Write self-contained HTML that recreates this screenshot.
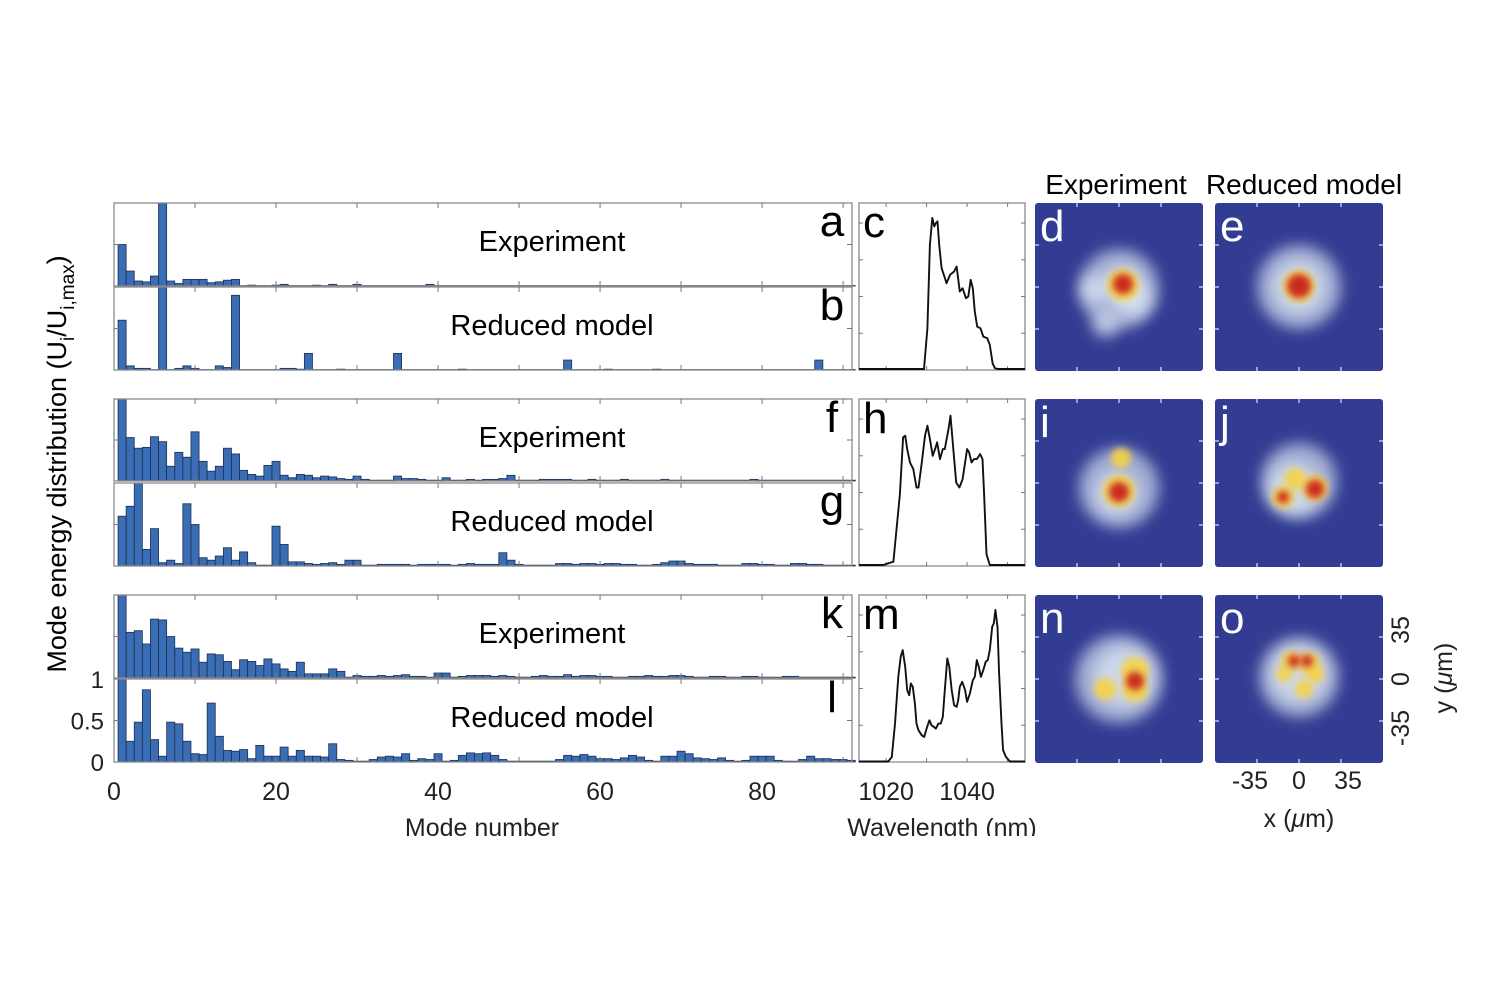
<!DOCTYPE html>
<html><head><meta charset="utf-8"><style>
html,body{margin:0;padding:0;background:#fff;}
svg{display:block;font-family:"Liberation Sans",sans-serif;}
</style></head><body>
<svg id="fig" width="1500" height="1000" viewBox="0 0 1500 1000" xmlns="http://www.w3.org/2000/svg">
<defs>
<filter id="blur6" x="-50%" y="-50%" width="200%" height="200%"><feGaussianBlur stdDeviation="7"/></filter>
<filter id="blur3" x="-50%" y="-50%" width="200%" height="200%"><feGaussianBlur stdDeviation="3.5"/></filter>
<clipPath id="clipBottom"><rect x="0" y="0" width="1500" height="836"/></clipPath>
</defs>
<g id="bars-layer"></g>
<g id="spec-layer"></g>
<g id="heat-layer"></g>
<g id="text-layer">
<text x="66" y="464" font-size="27" text-anchor="middle" transform="rotate(-90 66 464)">Mode energy distribution (U<tspan font-size="19" dy="8">i</tspan><tspan dy="-8">/U</tspan><tspan font-size="19" dy="8">i,max</tspan><tspan dy="-8">)</tspan></text>
<text x="482" y="836" font-size="25" text-anchor="middle" fill="#222">Mode number</text>
<text x="942" y="836" font-size="25" text-anchor="middle" fill="#222" clip-path="url(#clipBottom)">Wavelength (nm)</text>
<text x="1116" y="194" font-size="28" text-anchor="middle">Experiment</text>
<text x="1304" y="194" font-size="28" text-anchor="middle">Reduced model</text>
<text x="1299" y="827" font-size="25" text-anchor="middle" fill="#222">x (<tspan font-style="italic">μ</tspan>m)</text>
<text x="1452" y="678" font-size="25" text-anchor="middle" fill="#222" transform="rotate(-90 1452 678)">y (<tspan font-style="italic">μ</tspan>m)</text>
</g>
</svg>
<script>
// ---------- bar chart data (91 modes) ----------
const modeTicks = [0, 20, 40, 60, 80];
const barA = [0.5,0.18,0.06,0.05,0.12,1.0,0.06,0.03,0.08,0.08,0.08,0.04,0.05,0.07,0.08,0.005,0.01,0.005,0.005,0.01,0.02,0.005,0.005,0.005,0.01,0.005,0.02,0.005,0.005,0.02,0.005,0.005,0.005,0.005,0.005,0.005,0.005,0.005,0.02,0.005,0.005,0.005,0.005,0.005,0.005,0.005,0.005,0.005,0.005,0.005,0.005,0.005,0.005,0.005,0.005,0.005,0.005,0.005,0.005,0.005,0.005,0.005,0.005,0.005,0.005,0.005,0.005,0.005,0.005,0.005,0.005,0.005,0.005,0.005,0.005,0.005,0.005,0.005,0.005,0.005,0.005,0.005,0.005,0.005,0.005,0.005,0.005,0.005,0.005,0.005,0.005];
const barB = [0.6,0.05,0.02,0.02,0.005,1.0,0.005,0.02,0.05,0.02,0.005,0.005,0.05,0.03,0.9,0.005,0.005,0.005,0.005,0.005,0.02,0.02,0.01,0.2,0.005,0.005,0.005,0.01,0.005,0.005,0.005,0.005,0.005,0.005,0.2,0.005,0.005,0.005,0.005,0.005,0.005,0.005,0.01,0.005,0.005,0.005,0.005,0.005,0.005,0.005,0.005,0.005,0.005,0.005,0.005,0.12,0.005,0.005,0.005,0.005,0.01,0.005,0.005,0.005,0.005,0.005,0.01,0.005,0.005,0.005,0.005,0.005,0.005,0.005,0.005,0.005,0.005,0.005,0.005,0.005,0.005,0.005,0.005,0.005,0.005,0.005,0.12,0.005,0.005,0.005,0.005];
const barF = [1.0,0.53,0.4,0.41,0.54,0.48,0.18,0.35,0.29,0.6,0.24,0.12,0.18,0.4,0.33,0.13,0.08,0.06,0.19,0.24,0.07,0.04,0.08,0.07,0.04,0.06,0.05,0.03,0.02,0.06,0.02,0.01,0.01,0.01,0.06,0.03,0.03,0.02,0.01,0.01,0.04,0.01,0.01,0.02,0.01,0.02,0.02,0.03,0.07,0.01,0.01,0.01,0.02,0.02,0.02,0.02,0.01,0.01,0.02,0.01,0.01,0.01,0.02,0.01,0.01,0.01,0.01,0.02,0.01,0.01,0.01,0.01,0.01,0.01,0.01,0.01,0.01,0.01,0.02,0.01,0.01,0.01,0.01,0.01,0.01,0.01,0.01,0.01,0.01,0.01,0.01];
const barG = [0.6,0.72,1.0,0.2,0.45,0.04,0.07,0.03,0.75,0.5,0.1,0.07,0.12,0.22,0.07,0.17,0.04,0.01,0.01,0.48,0.26,0.05,0.05,0.03,0.02,0.03,0.04,0.02,0.07,0.07,0.01,0.01,0.02,0.02,0.02,0.02,0.01,0.02,0.02,0.02,0.02,0.01,0.02,0.03,0.02,0.02,0.02,0.16,0.07,0.02,0.01,0.01,0.01,0.01,0.03,0.03,0.02,0.03,0.03,0.02,0.03,0.03,0.02,0.02,0.01,0.01,0.02,0.04,0.06,0.06,0.03,0.02,0.02,0.02,0.01,0.01,0.01,0.03,0.03,0.02,0.02,0.01,0.01,0.03,0.03,0.02,0.02,0.01,0.01,0.01,0.01];
const barK = [1.0,0.55,0.57,0.41,0.71,0.7,0.5,0.36,0.31,0.35,0.19,0.29,0.28,0.2,0.1,0.22,0.2,0.15,0.23,0.17,0.11,0.08,0.19,0.05,0.05,0.05,0.11,0.08,0.01,0.03,0.02,0.02,0.03,0.02,0.03,0.04,0.02,0.02,0.01,0.06,0.06,0.01,0.02,0.03,0.03,0.03,0.02,0.03,0.02,0.01,0.01,0.02,0.03,0.02,0.02,0.04,0.02,0.03,0.03,0.02,0.02,0.01,0.01,0.02,0.02,0.03,0.02,0.02,0.03,0.03,0.02,0.01,0.01,0.02,0.02,0.01,0.01,0.02,0.02,0.01,0.01,0.01,0.02,0.02,0.01,0.01,0.01,0.01,0.01,0.01,0.01];
const barL = [1.0,0.25,0.48,0.87,0.27,0.07,0.48,0.46,0.25,0.1,0.09,0.71,0.31,0.14,0.13,0.15,0.04,0.2,0.07,0.07,0.18,0.07,0.14,0.07,0.07,0.06,0.22,0.03,0.02,0.01,0.01,0.03,0.06,0.07,0.06,0.1,0.02,0.04,0.03,0.1,0.01,0.02,0.08,0.11,0.1,0.11,0.08,0.03,0.01,0.01,0.01,0.01,0.01,0.01,0.03,0.08,0.07,0.09,0.07,0.04,0.04,0.03,0.05,0.08,0.06,0.02,0.01,0.07,0.07,0.13,0.1,0.05,0.04,0.03,0.05,0.02,0.01,0.02,0.07,0.07,0.07,0.02,0.01,0.01,0.03,0.07,0.04,0.04,0.03,0.03,0.02];
// ---------- spectra data ----------
const specTicks = [1020, 1040];
const specCx = [1013.3,1029.35,1030.2,1030.8,1031.4,1031.9,1032.3,1032.7,1033.1,1033.7,1034.4,1034.9,1035.8,1036.8,1037.4,1038.2,1038.9,1039.7,1040.3,1040.9,1041.4,1041.9,1042.5,1043.3,1044.0,1045.0,1045.6,1046.3,1046.9,1047.7,1054.3];
const specCy = [0.006,0.006,0.25,0.75,0.91,0.86,0.88,0.89,0.75,0.61,0.56,0.52,0.57,0.59,0.62,0.47,0.49,0.43,0.44,0.54,0.49,0.35,0.26,0.25,0.2,0.19,0.15,0.04,0.01,0.006,0.006];
const specHx = [1013.3,1019.3,1021.8,1023.4,1024.2,1024.7,1025.2,1025.9,1026.7,1027.5,1028.0,1028.8,1029.6,1030.2,1030.8,1031.5,1032.1,1032.6,1033.3,1034.0,1034.5,1035.4,1035.9,1036.6,1037.3,1038.1,1038.9,1039.5,1040.0,1040.5,1041.1,1041.7,1042.4,1043.2,1043.8,1044.2,1044.8,1045.6,1054.3];
const specHy = [0.006,0.006,0.026,0.43,0.77,0.78,0.7,0.62,0.58,0.47,0.47,0.62,0.78,0.84,0.76,0.66,0.7,0.74,0.64,0.7,0.7,0.82,0.9,0.7,0.5,0.47,0.52,0.62,0.7,0.68,0.62,0.64,0.64,0.67,0.64,0.43,0.07,0.006,0.006];
const specMx = [1013.3,1020.5,1021.4,1022.2,1023.0,1023.6,1024.1,1024.7,1025.2,1025.7,1026.1,1026.6,1027.1,1027.5,1028.0,1028.8,1029.4,1030.0,1030.7,1031.2,1031.8,1032.3,1032.9,1033.5,1034.0,1034.5,1035.1,1035.6,1036.2,1036.8,1037.4,1037.8,1038.2,1038.8,1039.5,1040.0,1040.7,1041.4,1041.9,1042.4,1042.9,1043.4,1044.0,1044.6,1045.1,1045.6,1046.2,1046.6,1047.0,1047.5,1047.9,1048.5,1048.9,1049.6,1050.6,1054.3];
const specMy = [0.003,0.003,0.03,0.23,0.51,0.63,0.67,0.57,0.43,0.4,0.47,0.45,0.35,0.23,0.19,0.16,0.15,0.2,0.25,0.22,0.21,0.2,0.23,0.23,0.27,0.43,0.62,0.57,0.43,0.34,0.33,0.37,0.45,0.48,0.43,0.36,0.41,0.49,0.51,0.61,0.57,0.51,0.55,0.6,0.61,0.67,0.81,0.83,0.91,0.81,0.53,0.23,0.07,0.03,0.003,0.003];
// ---------- beam profile blobs: [x(um), y(um), radius(um), level 0=halo 1=warm 2=hot] ----------
const blobD = [[0,-2,40,0],[-25,-2,14,0],[-14,-38,13,0],[14,-12,18,0],[4,2,20,0],[4,2,16,1],[4,3,10,2]];
const blobE = [[0,0,42,0],[0,0,26,0],[0,1,16,1],[0,1,12,2]];
const blobI = [[0,-5,40,0],[-2,-10,22,0],[2,25,10,1],[0,-8,16,1],[0,-9,10,2]];
const blobJ = [[0,2,38,0],[-5,-5,26,0],[-16,-14,11,1],[-4,4,11,1],[16,-5,13,1],[16,-6,9,2],[-16,-14,6,2]];
const blobN = [[0,0,44,0],[5,2,30,0],[16,8,14,1],[16,-10,13,1],[-14,-10,11,1],[16,-2,9,2]];
const blobO = [[0,2,40,0],[0,5,28,0],[-8,18,10,1],[10,16,11,1],[16,5,9,1],[-15,5,8,1],[5,-10,9,1],[8,18,6,2],[-5,18,6,2]];

const NS = 'http://www.w3.org/2000/svg';
function mk(tag, attrs, parent){const e=document.createElementNS(NS,tag);for(const k in attrs)e.setAttribute(k,attrs[k]);parent.appendChild(e);return e;}

// ---- bar panels ----
const BX0 = 114, BX1 = 852, MODE_MAX = 91.1;
function xMode(m){return BX0 + (m/MODE_MAX)*(BX1-BX0);}
const barLayer = document.getElementById('bars-layer');
const barPanels = [
 {d:barA,top:203,bot:286,lab:'Experiment',letter:'a',id:'a'},
 {d:barB,top:287,bot:370,lab:'Reduced model',letter:'b',id:'b'},
 {d:barF,top:399,bot:481,lab:'Experiment',letter:'f',id:'f'},
 {d:barG,top:483,bot:566,lab:'Reduced model',letter:'g',id:'g'},
 {d:barK,top:595,bot:678,lab:'Experiment',letter:'k',id:'k'},
 {d:barL,top:679,bot:762,lab:'Reduced model',letter:'l',id:'l'}
];
barPanels.forEach(p=>{
  const g = mk('g',{},barLayer);
  
  
  const h = p.bot-p.top;
  const yv = v => p.bot - v*h;
  p.d.forEach((v,i)=>{
    const m = i+1;
    const w = xMode(m+0.5)-xMode(m-0.5);
    const r = mk('rect',{x:xMode(m-0.5),y:yv(Math.min(v,1)),width:w,height:Math.min(v,1)*h,fill:'#3a6db3',stroke:'#1c2f55','stroke-width':0.8},g);
    
    
  });
  const fr = mk('rect',{x:BX0,y:p.top,width:BX1-BX0,height:h,fill:'none',stroke:'#8a8a8a','stroke-width':1.3},g);
  
  
  for(let t=10;t<=90;t+=10){
    mk('line',{x1:xMode(t),x2:xMode(t),y1:p.top,y2:p.top+5,stroke:'#777','stroke-width':1},g);
    mk('line',{x1:xMode(t),x2:xMode(t),y1:p.bot,y2:p.bot-5,stroke:'#777','stroke-width':1},g);
  }
  [0.5].forEach(v=>{
    mk('line',{x1:BX0,x2:BX0+5,y1:yv(v),y2:yv(v),stroke:'#777','stroke-width':1},g);
    mk('line',{x1:BX1,x2:BX1-5,y1:yv(v),y2:yv(v),stroke:'#777','stroke-width':1},g);
  });
  const t1 = mk('text',{x:552,y:p.top+48,'font-size':29,'text-anchor':'middle'},g);
  t1.textContent = p.lab;
  
  
  const t2 = mk('text',{x:832,y:p.top+33,'font-size':44,'text-anchor':'middle'},g);
  t2.textContent = p.letter;
  
  
});
// y ticks for panel l
const yTickVals = [0,0.5,1];
const yTickLabels = ['0','0.5','1'];
yTickVals.forEach((v,i)=>{
  const y = 762 - v*83;
  const t = mk('text',{x:104,y:y+9,'font-size':24,'text-anchor':'end',fill:'#222'},barLayer);
  t.textContent = yTickLabels[i];
  
  
});
modeTicks.forEach(m=>{
  const t = mk('text',{x:xMode(m),y:800,'font-size':25,'text-anchor':'middle',fill:'#222'},barLayer);
  t.textContent = String(m);
  
  
});

// ---- spectra ----
const SX0 = 859, SX1 = 1025, L0 = 1013.3, L1 = 1054.3;
function xL(l){return SX0 + (l-L0)/(L1-L0)*(SX1-SX0);}
const specLayer = document.getElementById('spec-layer');
const specPanels = [
 {x:specCx,y:specCy,top:203,bot:370,letter:'c'},
 {x:specHx,y:specHy,top:399,bot:566,letter:'h'},
 {x:specMx,y:specMy,top:595,bot:762,letter:'m'}
];
specPanels.forEach(p=>{
  const g = mk('g',{},specLayer);
  
  
  const h = p.bot-p.top;
  const fr = mk('rect',{x:SX0,y:p.top,width:SX1-SX0,height:h,fill:'#fff',stroke:'#8a8a8a','stroke-width':1.3},g);
  
  
  [1020,1030,1040,1050].forEach(l=>{
    mk('line',{x1:xL(l),x2:xL(l),y1:p.bot,y2:p.bot-4,stroke:'#777'},g);
    mk('line',{x1:xL(l),x2:xL(l),y1:p.top,y2:p.top+4,stroke:'#777'},g);
  });
  [0.2,0.4,0.6,0.8].forEach(v=>{
    mk('line',{x1:SX0,x2:SX0+4,y1:p.bot-v*h*1.1,y2:p.bot-v*h*1.1,stroke:'#777'},g);
    mk('line',{x1:SX1,x2:SX1-4,y1:p.bot-v*h*1.1,y2:p.bot-v*h*1.1,stroke:'#777'},g);
  });
  const pts = p.x.map((l,i)=>xL(l).toFixed(1)+','+(p.bot - p.y[i]*h).toFixed(1)).join(' ');
  const ln = mk('polyline',{points:pts,fill:'none',stroke:'#111','stroke-width':1.9,'stroke-linejoin':'round'},g);
  
  
  const t = mk('text',{x:863,y:p.top+34,'font-size':44},g);
  t.textContent = p.letter;
  
  
});
specTicks.forEach(l=>{
  const t = mk('text',{x:xL(l),y:800,'font-size':25,'text-anchor':'middle',fill:'#222'},specLayer);
  t.textContent = String(l);
  
  
});

// ---- beam profiles ----
const heatLayer = document.getElementById('heat-layer');
const HS = 168, UM = 84; // square size px, half-range um
const heatPanels = [
 {b:blobD,x:1035,y:203,letter:'d'},{b:blobE,x:1215,y:203,letter:'e'},
 {b:blobI,x:1035,y:399,letter:'i'},{b:blobJ,x:1215,y:399,letter:'j'},
 {b:blobN,x:1035,y:595,letter:'n'},{b:blobO,x:1215,y:595,letter:'o'}
];
const levelFill = ['#e6f1fa','#f4d24a','#c8201c'];
heatPanels.forEach(p=>{
  const g = mk('g',{},heatLayer);
  
  
  mk('rect',{x:p.x,y:p.y,width:HS,height:HS,rx:3,fill:'#323c92'},g);
  const cx = p.x+HS/2, cy = p.y+HS/2, s = HS/(2*UM);
  p.b.forEach(b=>{
    const lv=b[3];
    const c = mk('circle',{cx:cx+b[0]*s,cy:cy-b[1]*s,r:b[2]*s,fill:levelFill[lv],opacity:lv===0?0.62:0.95,filter:lv===0?'url(#blur6)':'url(#blur3)'},g);
    
    
  });
  [-42,0,42].forEach(u=>{
    mk('line',{x1:cx+u*s,x2:cx+u*s,y1:p.y+HS,y2:p.y+HS-4,stroke:'#fff'},g);
    mk('line',{x1:cx+u*s,x2:cx+u*s,y1:p.y,y2:p.y+4,stroke:'#fff'},g);
    mk('line',{x1:p.x,x2:p.x+4,y1:cy+u*s,y2:cy+u*s,stroke:'#fff'},g);
    mk('line',{x1:p.x+HS,x2:p.x+HS-4,y1:cy+u*s,y2:cy+u*s,stroke:'#fff'},g);
  });
  const t = mk('text',{x:p.x+5,y:p.y+38,'font-size':44,fill:'#fff'},g);
  t.textContent = p.letter;
  
  
});
const umTicks = [-35,0,35];
umTicks.forEach(u=>{
  const s = 1.4;
  const tx = mk('text',{x:1299+u*s,y:789,'font-size':25,'text-anchor':'middle',fill:'#222'},heatLayer);
  tx.textContent = String(u);
  
  
  const yy = 679 - u*s;
  const ty = mk('text',{x:1409,y:yy,'font-size':25,'text-anchor':'middle',fill:'#222',transform:'rotate(-90 1409 '+yy+')'},heatLayer);
  ty.textContent = String(u);
  
  
});
</script>
</body></html>
